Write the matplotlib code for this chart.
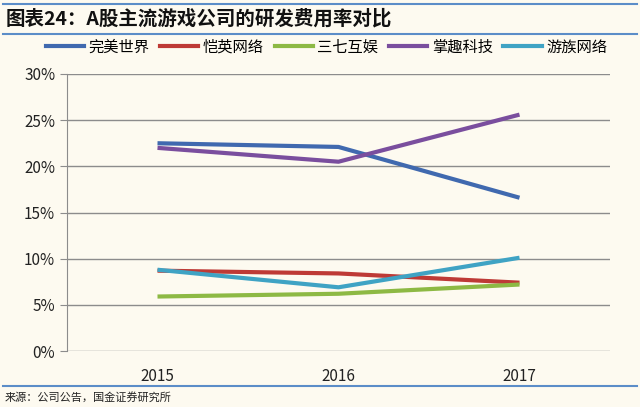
import matplotlib.pyplot as plt
from matplotlib.lines import Line2D
from matplotlib.ticker import PercentFormatter

years = ['2015', '2016', '2017']
wanmei = [22.5, 22.1, 16.6]
kaiying = [8.7, 8.4, 7.4]
sanqi = [5.9, 6.2, 7.2]
zhangqu = [22.0, 20.5, 25.6]
youzu = [8.8, 6.9, 10.1]

names = ['完美世界', '恺英网络', '三七互娱', '掌趣科技', '游族网络']
series = [wanmei, kaiying, sanqi, zhangqu, youzu]
colors = ['#4069AF', '#BE3A36', '#8DB944', '#7A4E9E', '#3FA3C4']

plt.rcParams['font.family'] = ['Noto Sans CJK SC', 'DejaVu Sans']
bg = '#FDFAF0'

fig = plt.figure(figsize=(6.4, 4.07), dpi=100, facecolor=bg)
ax = fig.add_axes([67 / 640, 1 - 351 / 407, 543 / 640, 277 / 407], facecolor=bg)

x = [0, 1, 2]
for vals, c, n in zip(series, colors, names):
    ax.plot(x, vals, color=c, linewidth=3, label=n, solid_capstyle='butt')

ax.set_xlim(-0.5, 2.5)
ax.set_ylim(0, 30)
ax.set_yticks(range(0, 31, 5))
ax.yaxis.set_major_formatter(PercentFormatter(decimals=0))
ax.set_xticks(x)
ax.set_xticklabels(years)
ax.grid(axis='y', color='#8C8C8C', linewidth=1)
ax.set_axisbelow(True)
for s in ['top', 'right', 'bottom']:
    ax.spines[s].set_visible(False)
ax.spines['left'].set_color('#8C8C8C')
ax.tick_params(axis='y', length=5, color='#8C8C8C', labelsize=11, labelcolor='#222222')
ax.tick_params(axis='x', length=0, labelsize=11, labelcolor='#222222', pad=12)

handles = [Line2D([], [], color=c, linewidth=3) for c in colors]
fig.legend(handles, names, loc='center', bbox_to_anchor=(0.51, 1 - 47 / 407), ncol=5,
           frameon=False, fontsize=11, handlelength=2.5, columnspacing=0.7,
           handletextpad=0.3)

# title and rules
fig.add_artist(Line2D([0.005, 0.995], [1 - 4 / 407] * 2, color='#5B8DC8', linewidth=1.5))
fig.add_artist(Line2D([0.005, 0.995], [1 - 34 / 407] * 2, color='#5B8DC8', linewidth=1.5))
fig.add_artist(Line2D([0.005, 0.995], [1 - 386 / 407] * 2, color='#5B8DC8', linewidth=1.5))
fig.text(0.008, 1 - 19 / 407, '图表24：A股主流游戏公司的研发费用率对比', fontsize=14,
         fontweight='bold', fontstyle='italic', va='center', ha='left', color='#111111')
fig.text(0.008, 1 - 397 / 407, '来源：公司公告，国金证券研究所', fontsize=8,
         va='center', ha='left', color='#222222')

fig.savefig('out.png', dpi=100, facecolor=bg)
